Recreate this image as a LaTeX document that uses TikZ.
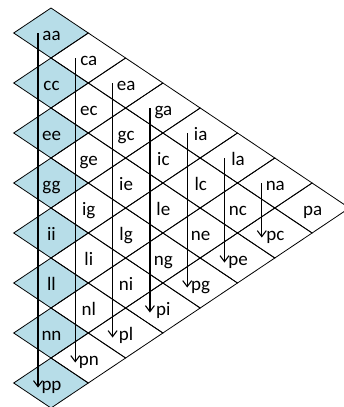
\documentclass[tikz,border=0pt]{standalone}
\usepackage{fontspec}
\setmainfont{Carlito}
\usetikzlibrary{arrows.meta}
\definecolor{cellblue}{HTML}{B7DDE8}
\newcommand\lett[1]{\ifcase#1 a\or c\or e\or g\or i\or l\or n\or p\fi}
\begin{document}
\begin{tikzpicture}[x=1pt,y=1pt,
  cell/.style={draw=black, line width=0.8pt, line join=miter},
  lab/.style={anchor=base, inner sep=0pt, font=\fontsize{19}{22}\selectfont},
  flow/.style={line width=1.3pt, -{Straight Barb[length=6pt,width=9pt,line width=1.1pt]}}]
\useasboundingbox (0,0) rectangle (344,-407);
\foreach \k in {0,...,7}{
  \pgfmathtruncatemacro\jmax{7-\k}
  \foreach \j in {0,...,\jmax}{
    \pgfmathsetmacro\cx{51+37.3*\k}
    \pgfmathsetmacro\cy{-(33+25*\k+50*\j)}
    \pgfmathtruncatemacro\ia{\k+\j}
    \ifnum\k=0
      \path[cell, fill=cellblue] (\cx-37.3,\cy) -- (\cx,\cy+25) -- (\cx+37.3,\cy) -- (\cx,\cy-25) -- cycle;
    \else
      \path[cell] (\cx-37.3,\cy) -- (\cx,\cy+25) -- (\cx+37.3,\cy) -- (\cx,\cy-25) -- cycle;
    \fi
    \node[lab] (c-\k-\j) at (\cx+0.5,\cy-7) {\lett{\ia}\lett{\j}};
    \ifnum\j=0 \coordinate (s-\k) at (\cx-13,\cy); \fi
    \ifnum\j=\jmax \coordinate (e-\k) at (\cx-13,\cy-4.5); \fi
  }
}
\foreach \k in {0,...,6}{
  \draw[flow] (s-\k) -- (e-\k);
}
\end{tikzpicture}
\end{document}
